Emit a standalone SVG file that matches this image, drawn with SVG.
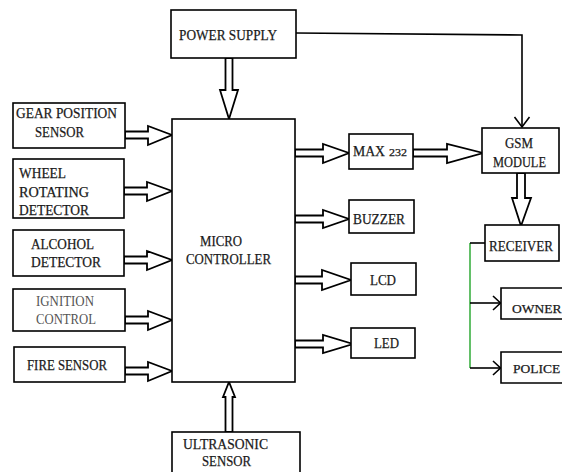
<svg xmlns="http://www.w3.org/2000/svg" width="562" height="472" viewBox="0 0 562 472">
<style>
.box{fill:#fff;stroke:#000;stroke-width:1.6}
.blk{fill:#fff;stroke:#000;stroke-width:1.8;stroke-linejoin:miter}
.ln{fill:none;stroke:#000;stroke-width:1.6}
.gr{fill:none;stroke:#3cb043;stroke-width:1.6}
text{font-family:"Liberation Serif","Times New Roman",serif;font-size:15px;fill:#1a1a1a;stroke:#1a1a1a;stroke-width:0.25}
.lt{fill:#555;stroke:none}
.sm{font-size:13.5px}
</style>
<rect x="0" y="0" width="562" height="472" fill="#fff"/>
<g id="connectors">
<polygon class="blk" points="225.5,58 232.5,58 232.5,90 238,90 229,119 220,90 225.5,90"/>
<polygon class="blk" points="225.5,432 232.5,432 232.5,397 235,397 229,382 223,397 225.5,397"/>
<polygon class="blk" points="125,131.5 148,131.5 148,126 172,135 148,145 148,138.5 125,138.5"/>
<polygon class="blk" points="124,187.5 147,187.5 147,182 172,191 147,201 147,194.5 124,194.5"/>
<polygon class="blk" points="124,256.5 147,256.5 147,251 172,260 147,270 147,263.5 124,263.5"/>
<polygon class="blk" points="125,316.5 148,316.5 148,311 172,320 148,330 148,323.5 125,323.5"/>
<polygon class="blk" points="125,367.5 148,367.5 148,362 172,371 148,381 148,374.5 125,374.5"/>
<polygon class="blk" points="295,149.5 323,149.5 323,144 349,153 323,163 323,156.5 295,156.5"/>
<polygon class="blk" points="295,215.5 323,215.5 323,210 349,219 323,228 323,222.5 295,222.5"/>
<polygon class="blk" points="295,276.5 322,276.5 322,270 351,280 322,290 322,283.5 295,283.5"/>
<polygon class="blk" points="295,340.5 323,340.5 323,335 353,344 323,353 323,347.5 295,347.5"/>
<polygon class="blk" points="413,149.5 447,149.5 447,144 483,153 447,163 447,156.5 413,156.5"/>
<polygon class="blk" points="517,173 525,173 525,198 531,198 521,226 512,198 517,198"/>
<polyline class="ln" points="296,33 522,35 522,127"/>
<polyline class="ln" points="514.5,117 522,127 529.5,117"/>
<line class="gr" x1="470" y1="243" x2="470" y2="368"/>
<line class="ln" x1="470" y1="243" x2="485" y2="243"/>
<line class="ln" x1="470" y1="303" x2="500" y2="303"/>
<polyline class="ln" points="493,296 500.5,303 493,310"/>
<line class="ln" x1="470" y1="368" x2="500" y2="368"/>
<polyline class="ln" points="493,361 500.5,368 493,375"/>
</g>
<g id="power"><rect class="box" x="171" y="10" width="125" height="48"/><text x="179" y="40" textLength="98" lengthAdjust="spacingAndGlyphs">POWER SUPPLY</text></g>
<g id="micro"><rect class="box" x="172" y="119" width="123" height="263"/><text x="200" y="246" textLength="42" lengthAdjust="spacingAndGlyphs">MICRO</text><text x="186" y="264" textLength="85" lengthAdjust="spacingAndGlyphs">CONTROLLER</text></g>
<g id="gear"><rect class="box" x="13" y="103" width="112" height="45"/><text x="16" y="118" textLength="101" lengthAdjust="spacingAndGlyphs">GEAR POSITION</text><text x="35" y="137" textLength="49" lengthAdjust="spacingAndGlyphs">SENSOR</text></g>
<g id="wheel"><rect class="box" x="13" y="159" width="111" height="59"/><text x="19" y="178" textLength="47" lengthAdjust="spacingAndGlyphs">WHEEL</text><text x="19" y="197" textLength="70" lengthAdjust="spacingAndGlyphs">ROTATING</text><text x="19" y="215" textLength="70" lengthAdjust="spacingAndGlyphs">DETECTOR</text></g>
<g id="alcohol"><rect class="box" x="13" y="230" width="111" height="46"/><text x="31" y="249" textLength="63" lengthAdjust="spacingAndGlyphs">ALCOHOL</text><text x="31" y="267" textLength="70" lengthAdjust="spacingAndGlyphs">DETECTOR</text></g>
<g id="ignition"><rect class="box" x="13" y="289" width="112" height="42"/><text class="lt" x="36" y="306" textLength="58" lengthAdjust="spacingAndGlyphs">IGNITION</text><text class="lt" x="36" y="324" textLength="60" lengthAdjust="spacingAndGlyphs">CONTROL</text></g>
<g id="fire"><rect class="box" x="14" y="347" width="111" height="35"/><text x="27" y="370" textLength="80" lengthAdjust="spacingAndGlyphs">FIRE SENSOR</text></g>
<g id="ultrasonic"><rect class="box" x="172" y="432" width="128" height="48"/><text x="183" y="449" textLength="85" lengthAdjust="spacingAndGlyphs">ULTRASONIC</text><text x="202" y="466" textLength="49" lengthAdjust="spacingAndGlyphs">SENSOR</text></g>
<g id="max"><rect class="box" x="349" y="134" width="64" height="35"/><text x="353" y="156" textLength="32" lengthAdjust="spacingAndGlyphs">MAX</text><text x="389" y="156" style="font-size:11px" textLength="18" lengthAdjust="spacingAndGlyphs">232</text></g>
<g id="buzzer"><rect class="box" x="349" y="200" width="65" height="33"/><text x="353" y="224" textLength="52" lengthAdjust="spacingAndGlyphs">BUZZER</text></g>
<g id="lcd"><rect class="box" x="351" y="263" width="65" height="32"/><text x="370" y="285" textLength="26" lengthAdjust="spacingAndGlyphs">LCD</text></g>
<g id="led"><rect class="box" x="351" y="328" width="64" height="30"/><text x="374" y="348" textLength="25" lengthAdjust="spacingAndGlyphs">LED</text></g>
<g id="gsm"><rect class="box" x="482" y="128" width="77" height="45"/><text x="505" y="148" textLength="28" lengthAdjust="spacingAndGlyphs">GSM</text><text x="493" y="167" textLength="53" lengthAdjust="spacingAndGlyphs">MODULE</text></g>
<g id="receiver"><rect class="box" x="485" y="225" width="74" height="36"/><text x="489" y="251" textLength="64" lengthAdjust="spacingAndGlyphs">RECEIVER</text></g>
<g id="owner"><path class="box" d="M562,288 H501 V319 H562"/><text class="sm" x="512" y="313">OWNER</text></g>
<g id="police"><path class="box" d="M562,352 H501 V383 H562"/><text class="sm" x="513" y="373">POLICE</text></g>
</svg>
